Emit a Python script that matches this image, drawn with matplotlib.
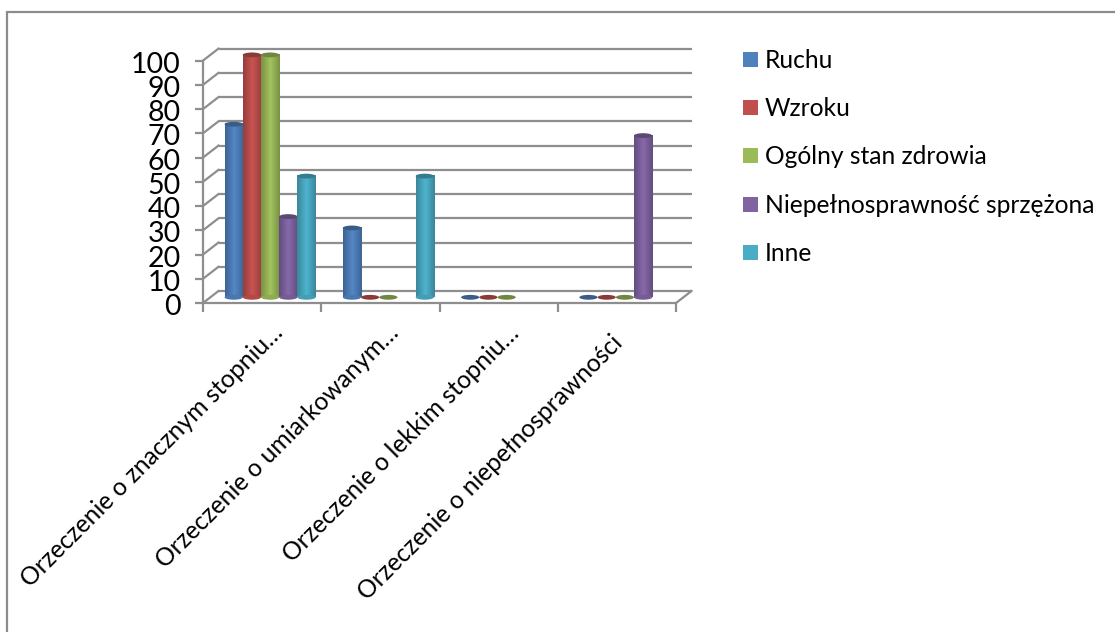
# Excel-style 3D cylinder column chart, faked in 2D: the series sit on a plane
# shifted a few pixels from the front axis, the grid on a plane shifted further.
import numpy as np
import matplotlib; matplotlib.use("Agg")
import matplotlib.pyplot as plt
from matplotlib.colors import LinearSegmentedColormap, to_rgb
from matplotlib.lines import Line2D
from matplotlib.patches import Ellipse, Rectangle
from matplotlib.transforms import Affine2D

categories = ["Orzeczenie o znacznym stopniu…", "Orzeczenie o umiarkowanym…",
              "Orzeczenie o lekkim stopniu…", "Orzeczenie o niepełnosprawności"]
series_names = ["Ruchu", "Wzroku", "Ogólny stan zdrowia", "Niepełnosprawność sprzężona", "Inne"]
ruchu = [71.4, 28.6, 0, 0]
wzroku = [100, 0, 0, 0]
ogolny = [100, 0, 0, 0]
sprzezona = [33.3, np.nan, np.nan, 66.7]
inne = [50, 50, np.nan, np.nan]
series = [ruchu, wzroku, ogolny, sprzezona, inne]
colors = ["#4f81bd", "#c0504d", "#9bbb59", "#8064a2", "#4bacc6"]
y_ticks = list(range(0, 101, 10))

W, H = 1115, 632
plt.rcParams["font.family"] = ["Lato", "DejaVu Sans"]
fig = plt.figure(figsize=(W/100, H/100), dpi=100)
GRID = "#8e8e8e"

# overlay in pixel coords for frame and legend
px = fig.add_axes([0, 0, 1, 1]); px.set_xlim(0, W); px.set_ylim(H, 0); px.axis("off")
px.plot([7, 7, W], [H, 12, 12], color="#8c8c8c", lw=1.6, solid_joinstyle="miter")

# front plane of the chart
L, R, Y0, Y100 = 203, 676, 303, 60.6
ax = fig.add_axes([L/W, 1-Y0/H, (R-L)/W, (Y0-Y100)/H])
ax.set_xlim(-0.5, 3.5); ax.set_ylim(0, 100)
ax.patch.set_alpha(0)
for s in ax.spines.values(): s.set_visible(False)

def shifted(dx, dy):
    # dy counts upward on screen, display coords have y going up too
    return ax.transData + Affine2D().translate(dx, dy)

# depth shift in pixels: back wall, and about half of it for the columns
back = shifted(15.5, 12)
mid = shifted(8, 5.7)
for v in y_ticks:
    ax.plot([-0.5, 3.5], [v, v], transform=back, color=GRID, lw=1.6, clip_on=False, zorder=1,
            solid_capstyle="butt")
    # wall diagonal
    a = ax.transData.transform((-0.5, v))
    b = back.transform((-0.5, v))
    fig.add_artist(Line2D([a[0]/W, b[0]/W], [a[1]/H, b[1]/H], color=GRID, lw=1.6, zorder=1))
a = ax.transData.transform((3.5, 0)); b = back.transform((3.5, 0))
fig.add_artist(Line2D([a[0]/W, b[0]/W], [a[1]/H, b[1]/H], color=GRID, lw=1.6, zorder=1))
ax.plot([-0.5, -0.5], [0, 100], color=GRID, lw=1.6, clip_on=False, zorder=1.5)
ax.plot([-0.5, 3.5], [0, 0], color=GRID, lw=1.6, clip_on=False, zorder=1.5)

ax.set_yticks(y_ticks)
ax.set_xticks(np.arange(-0.5, 4))
ax.set_xticklabels([])
ax.tick_params(axis="y", length=6, width=1.6, color=GRID, labelsize=20.5, pad=10, labelcolor="black")
ax.tick_params(axis="x", length=6.5, width=1.6, color=GRID)
for t in ax.get_yticklabels():
    t.set_transform(t.get_transform() + Affine2D().translate(0, -1.5))

# cylinders
BW = 0.154
EH = 2.0  # ellipse height in value units
for i, (vals, col) in enumerate(zip(series, colors)):
    rgb = np.array(to_rgb(col))
    cmap = LinearSegmentedColormap.from_list("c", [rgb*0.78, np.minimum(rgb*1.05, 1), rgb*0.78])
    for j, v in enumerate(vals):
        if np.isnan(v):
            continue
        x0 = j + (i-2)*BW - BW/2
        z = 3 + i*0.01 + j
        if v > 0:
            im = ax.imshow(np.linspace(0, 1, 40)[None, :], cmap=cmap, extent=[x0, x0+BW, 0, v],
                           aspect="auto", zorder=z, interpolation="bilinear")
            im.set_transform(mid)
            im.set_clip_on(False)
            ax.add_patch(Ellipse((x0+BW/2, 0), BW, EH, facecolor=rgb*0.92, edgecolor="none", transform=mid,
                                 zorder=z, clip_on=False))
        ax.add_patch(Ellipse((x0+BW/2, v), BW, EH, facecolor=rgb*0.72, edgecolor="none", transform=mid,
                             zorder=z+0.005, clip_on=False))
ax.set_xlim(-0.5, 3.5); ax.set_ylim(0, 100)

# category labels, right end of each text hangs under the middle of its group
# the last one (not truncated) sits further left and lower in the original
for j, lab in enumerate(categories):
    off = [(9, -18), (6, -18), (9, -18), (-6, -28)][j]
    ax.annotate(lab, xy=(j, 0), xycoords="data", xytext=off, textcoords="offset pixels",
                rotation=45, rotation_mode="anchor", ha="right", va="top", fontsize=17.7, color="black")

# legend
leg_y = [59.5, 107.5, 155.5, 204, 252]
for name, col, y in zip(series_names, colors, leg_y):
    px.add_patch(Rectangle((743, y-7.5), 15, 15, facecolor=col, edgecolor="none"))
    px.text(765, y+1.5, name, va="center", ha="left", fontsize=17.7, color="black")

fig.savefig("out.png", dpi=100)
